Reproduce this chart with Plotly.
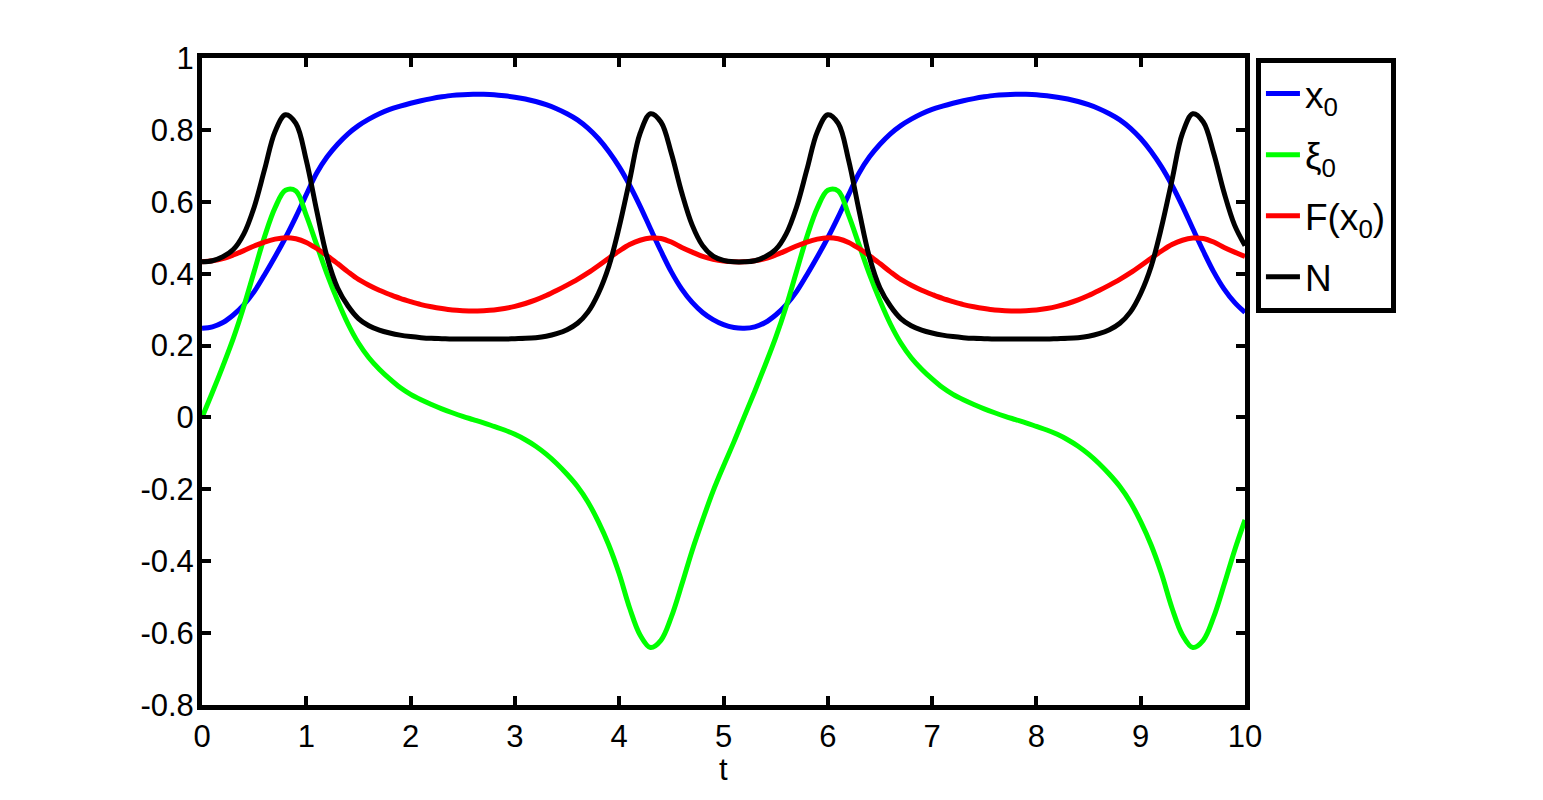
import plotly.graph_objects as go

# time grid (sampling points, step 0.1 from 0 to 10)
t = [round(i * 0.1, 1) for i in range(101)]

x0 = [
    0.248, 0.252, 0.264, 0.285, 0.313, 0.350, 0.397, 0.447, 0.500, 0.558,
    0.620, 0.680, 0.725, 0.760, 0.789, 0.812, 0.830, 0.845, 0.857, 0.866,
    0.874, 0.881, 0.887, 0.892, 0.896, 0.898, 0.899, 0.899, 0.898, 0.895,
    0.891, 0.886, 0.879, 0.870, 0.859, 0.845, 0.828, 0.805, 0.776, 0.740,
    0.697, 0.646, 0.588, 0.525, 0.463, 0.405, 0.357, 0.320, 0.292, 0.272,
    0.258, 0.250,
    0.248, 0.252, 0.264, 0.285, 0.313, 0.350, 0.397, 0.447, 0.500, 0.558,
    0.620, 0.680, 0.725, 0.760, 0.789, 0.812, 0.830, 0.845, 0.857, 0.866,
    0.874, 0.881, 0.887, 0.892, 0.896, 0.898, 0.899, 0.899, 0.898, 0.895,
    0.891, 0.886, 0.879, 0.870, 0.859, 0.845, 0.828, 0.805, 0.776, 0.740,
    0.697, 0.646, 0.588, 0.525, 0.463, 0.405, 0.357, 0.320, 0.292,
]

xi0 = [
    0.000, 0.070, 0.143, 0.220, 0.308, 0.406, 0.503, 0.583, 0.632, 0.630,
    0.562, 0.480, 0.398, 0.325, 0.260, 0.207, 0.166, 0.134, 0.107, 0.083,
    0.064, 0.049, 0.036, 0.024, 0.013, 0.003, -0.006, -0.015, -0.025, -0.035,
    -0.047, -0.062, -0.080, -0.102, -0.128, -0.158, -0.192, -0.235, -0.290, -0.355,
    -0.435, -0.530, -0.605, -0.640, -0.620, -0.555, -0.465, -0.370, -0.285, -0.205,
    -0.135, -0.068,
    0.003, 0.073, 0.146, 0.222, 0.308, 0.406, 0.503, 0.583, 0.632, 0.630,
    0.562, 0.480, 0.398, 0.325, 0.260, 0.207, 0.166, 0.134, 0.107, 0.083,
    0.064, 0.049, 0.036, 0.024, 0.013, 0.003, -0.006, -0.015, -0.025, -0.035,
    -0.047, -0.062, -0.080, -0.102, -0.128, -0.158, -0.192, -0.235, -0.290, -0.355,
    -0.435, -0.530, -0.605, -0.640, -0.620, -0.555, -0.465, -0.370, -0.285,
]

F_x0 = [
    0.433, 0.436, 0.442, 0.452, 0.464, 0.477, 0.488, 0.496, 0.500, 0.497,
    0.487, 0.470, 0.450, 0.428, 0.405, 0.384, 0.368, 0.354, 0.342, 0.331,
    0.322, 0.314, 0.308, 0.303, 0.299, 0.297, 0.296, 0.297, 0.299, 0.303,
    0.309, 0.317, 0.327, 0.339, 0.353, 0.368, 0.384, 0.402, 0.422, 0.443,
    0.463, 0.481, 0.493, 0.499, 0.498, 0.488, 0.473, 0.460, 0.448, 0.440,
    0.435, 0.433,
    0.433, 0.436, 0.442, 0.452, 0.464, 0.477, 0.488, 0.496, 0.500, 0.497,
    0.487, 0.470, 0.450, 0.428, 0.405, 0.384, 0.368, 0.354, 0.342, 0.331,
    0.322, 0.314, 0.308, 0.303, 0.299, 0.297, 0.296, 0.297, 0.299, 0.303,
    0.309, 0.317, 0.327, 0.339, 0.353, 0.368, 0.384, 0.402, 0.422, 0.443,
    0.463, 0.481, 0.493, 0.499, 0.498, 0.488, 0.473, 0.460, 0.448,
]

N = [
    0.433, 0.436, 0.447, 0.467, 0.510, 0.585, 0.690, 0.795, 0.842, 0.818,
    0.715, 0.575, 0.445, 0.360, 0.310, 0.275, 0.255, 0.243, 0.235, 0.229,
    0.225, 0.222, 0.220, 0.219, 0.218, 0.218, 0.218, 0.218, 0.218, 0.218,
    0.219, 0.220, 0.222, 0.226, 0.233, 0.244, 0.262, 0.293, 0.345, 0.420,
    0.530, 0.660, 0.790, 0.845, 0.822, 0.735, 0.625, 0.535, 0.478, 0.449,
    0.437, 0.433,
    0.433, 0.436, 0.447, 0.467, 0.510, 0.585, 0.690, 0.795, 0.842, 0.818,
    0.715, 0.575, 0.445, 0.360, 0.310, 0.275, 0.255, 0.243, 0.235, 0.229,
    0.225, 0.222, 0.220, 0.219, 0.218, 0.218, 0.218, 0.218, 0.218, 0.218,
    0.219, 0.220, 0.222, 0.226, 0.233, 0.244, 0.262, 0.293, 0.345, 0.420,
    0.530, 0.660, 0.790, 0.845, 0.822, 0.735, 0.625, 0.535, 0.478,
]

x_ticks = [0, 1, 2, 3, 4, 5, 6, 7, 8, 9, 10]
y_ticks = [-0.8, -0.6, -0.4, -0.2, 0, 0.2, 0.4, 0.6, 0.8, 1]
y_ticktext = ["-0.8", "-0.6", "-0.4", "-0.2", "0", "0.2", "0.4", "0.6", "0.8", "1"]
x_title = "t"

series = [
    ("x<sub>0</sub>", x0, "#0000FF"),
    ("\u03be<sub>0</sub>", xi0, "#00FF00"),
    ("F(x<sub>0</sub>)", F_x0, "#FF0000"),
    ("N", N, "#000000"),
]

FONT = "Liberation Sans, Arial, Helvetica, sans-serif"
TICK_SIZE = 31
LEG_SIZE = 37

fig = go.Figure()
for i, (name, ys, col) in enumerate(series):
    fig.add_trace(go.Scatter(
        x=t, y=ys, mode="lines", name=name, legendgroup=f"g{i}",
        line=dict(color=col, width=5, shape="spline", smoothing=1.0),
    ))

axis_common = dict(
    showline=True, linewidth=5, linecolor="black", mirror="ticks",
    ticks="inside", ticklen=9, tickwidth=4, tickcolor="black",
    showgrid=False, zeroline=False,
    tickfont=dict(family=FONT, size=TICK_SIZE, color="black"),
)

# page body has an 8px default margin, so the figure is offset by 8px
fig.update_layout(
    width=1535, height=784,
    margin=dict(l=194, r=298, t=50, b=87, pad=0),
    paper_bgcolor="white", plot_bgcolor="white",
    font=dict(family=FONT, size=TICK_SIZE, color="black"),
    xaxis=dict(range=[0, 10], tickvals=x_ticks, ticktext=[str(v) for v in x_ticks],
               automargin=False, **axis_common),
    yaxis=dict(range=[-0.8, 1], tickvals=y_ticks, ticktext=y_ticktext,
               automargin=False, ticklabelstandoff=-3, **axis_common),
    legend=dict(
        x=1.0105, y=1.0, xanchor="left", yanchor="top",
        bordercolor="black", borderwidth=5, bgcolor="white",
        font=dict(family=FONT, size=LEG_SIZE, color="black"),
        tracegroupgap=10, itemwidth=34,
    ),
    showlegend=True,
    annotations=[dict(
        text=x_title, xref="paper", yref="paper", x=0.5, y=0,
        xanchor="center", yanchor="top", yshift=-46, showarrow=False,
        borderpad=0,
        font=dict(family=FONT, size=TICK_SIZE, color="black"),
    )],
)

fig.write_html("out.html")
